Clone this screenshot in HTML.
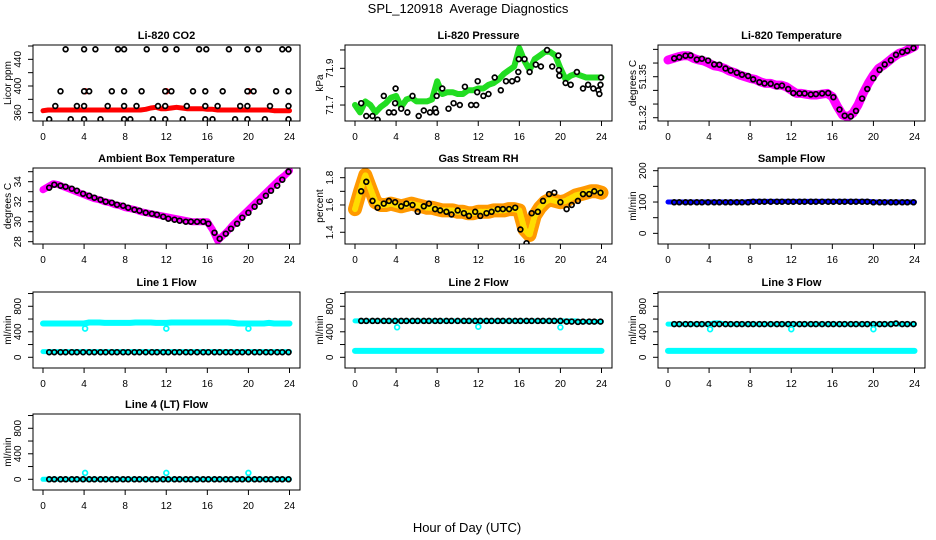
<!DOCTYPE html>
<html><head><meta charset="utf-8"><title>SPL_120918 Average Diagnostics</title>
<style>
html,body{margin:0;padding:0;background:#fff;}
svg{display:block;font-family:"Liberation Sans",Arial,sans-serif;}
</style></head>
<body>
<svg id="chart" width="936" height="540" viewBox="0 0 936 540" xmlns="http://www.w3.org/2000/svg">
<text x="468" y="13" text-anchor="middle" font-size="13">SPL_120918&#160; Average Diagnostics</text>
<text x="467" y="532" text-anchor="middle" font-size="13">Hour of Day (UTC)</text>
</svg>
<script>
// ---- shared x values ----
const halfHours = [0,0.5,1,1.5,2,2.5,3,3.5,4,4.5,5,5.5,6,6.5,7,7.5,8,8.5,9,9.5,10,10.5,11,11.5,12,12.5,13,13.5,14,14.5,15,15.5,16,16.5,17,17.5,18,18.5,19,19.5,20,20.5,21,21.5,22,22.5,23,23.5,24];
const hourlyX = [0.6,1.1,1.7,2.2,2.8,3.3,3.9,4.5,5.0,5.6,6.1,6.7,7.2,7.8,8.3,8.9,9.4,10.0,10.6,11.1,11.7,12.2,12.8,13.3,13.9,14.4,15.0,15.6,16.1,16.7,17.2,17.8,18.3,18.9,19.4,20.0,20.6,21.1,21.7,22.2,22.8,23.3,23.9];
const xTicks = [0,4,8,12,16,20,24];

// ---- CO2 ----
const co2Band = [363,364,364,364,364,364,364,364,364,364,364,364,364,364,364,364,364,364,364,364,365,367,368,366,366,367,368,367,366,366,366,366,365,365,364,364,364,364,364,364,364,364,364,364,364,363,363,363,363];
const co2RedX = [4.1,12.0,20.0];
const co2RedY = [392,392,392];
const co2BlackX = [2.2,4,5.1,7.3,7.9,10.1,11.9,13,15.2,15.9,18.1,19.9,21,23.3,23.9, 1.7,4,4.5,6.7,7.9,9.6,11.9,12.5,14.6,15.8,17.5,19.9,20.5,22.7,23.9, 1.2,3.3,4,6.3,7.9,9.1,11.2,11.9,14,15.8,17,19.2,19.9,22.1,23.9, 0.6,2.7,4,5.6,7.9,8.5,10.7,11.9,13.6,15.8,16.5,18.7,19.9,21.6,23.9];
const co2BlackY = [455,455,455,455,455,455,455,455,455,455,455,455,455,455,455, 392,392,392,392,392,392,392,392,392,392,392,392,392,392,392, 370,370,370,370,370,370,370,370,370,370,370,370,370,370,370, 350,350,350,350,350,350,350,350,350,350,350,350,350,350,350];

// ---- Pressure ----
const presBand = [71.70,71.66,71.72,71.70,71.66,71.69,71.71,71.74,71.75,71.69,71.73,71.74,71.72,71.72,71.72,71.73,71.83,71.76,71.77,71.77,71.76,71.76,71.78,71.78,71.79,71.79,71.81,71.82,71.84,71.87,71.89,71.91,72.01,71.94,71.89,71.95,71.97,71.99,71.99,71.97,71.90,71.84,71.86,71.87,71.86,71.85,71.85,71.85,71.85];
const presBlackX = [0.6,1.1,1.7,2.2,2.8,3.3,3.8,3.9,3.95,4.5,5.1,5.6,6.2,6.7,7.3,7.8,7.9,7.95,8.5,9.1,9.6,10.2,10.7,11.3,11.8,11.9,11.95,12.5,13.0,13.6,14.2,14.7,15.3,15.8,15.9,15.95,16.5,17.0,17.6,18.1,18.7,19.2,19.8,19.85,19.9,20.5,21.0,21.6,22.2,22.7,23.2,23.7,23.8,23.9,23.95];
const presBlackY = [71.71,71.64,71.64,71.62,71.75,71.66,71.66,71.71,71.79,71.68,71.66,71.75,71.64,71.67,71.66,71.68,71.66,71.75,71.79,71.68,71.71,71.70,71.80,71.70,71.70,71.77,71.83,71.75,71.76,71.85,71.78,71.83,71.83,71.84,71.88,71.95,71.95,71.88,71.92,71.91,72.00,71.91,71.97,71.89,71.86,71.82,71.81,71.88,71.79,71.81,71.79,71.78,71.76,71.81,71.85];

// ---- Li-820 temperature ----
const tempBand = [51.3622,51.3634,51.3646,51.3654,51.3654,51.3634,51.3622,51.3615,51.3598,51.3580,51.3573,51.3561,51.3541,51.3529,51.3512,51.3500,51.3488,51.3480,51.3463,51.3451,51.3451,51.3439,51.3439,51.3427,51.3402,51.3378,51.3378,51.3371,51.3366,51.3366,51.3373,51.3378,51.3354,51.3280,51.3220,51.3207,51.3232,51.3293,51.3378,51.3451,51.3512,51.3561,51.3585,51.3615,51.3646,51.3671,51.3683,51.3702,51.3720];
const tempBlack = [51.3634,51.3642,51.3654,51.3656,51.3625,51.3632,51.3618,51.3590,51.3588,51.3560,51.3545,51.3529,51.3515,51.3505,51.3480,51.3460,51.3451,51.3448,51.3430,51.3435,51.3410,51.3380,51.3378,51.3378,51.3370,51.3373,51.3378,51.3380,51.3350,51.3260,51.3215,51.3210,51.3250,51.3340,51.3410,51.3490,51.3550,51.3590,51.3620,51.3660,51.3680,51.3690,51.3710];

// ---- Ambient box temperature ----
const ambBand = [33.2,33.5,33.8,33.7,33.5,33.3,33.1,32.9,32.7,32.5,32.3,32.2,32.0,31.9,31.7,31.6,31.4,31.3,31.2,31.0,30.9,30.8,30.7,30.6,30.5,30.4,30.3,30.2,30.1,30.0,30.0,30.0,30.0,29.2,28.1,28.6,29.1,29.7,30.2,30.7,31.2,31.7,32.2,32.7,33.2,33.7,34.2,34.6,35.1];
const ambBlack = [33.4,33.7,33.6,33.5,33.3,33.1,32.8,32.6,32.4,32.2,32.0,31.9,31.7,31.6,31.4,31.2,31.1,30.9,30.8,30.7,30.5,30.3,30.2,30.1,30.0,30.0,30.0,30.0,29.8,28.9,28.3,28.8,29.3,29.8,30.4,30.9,31.5,32.0,32.6,33.1,33.6,34.2,35.0];

// ---- Gas stream RH ----
const rhBand = [1.57,1.70,1.82,1.72,1.62,1.60,1.60,1.61,1.60,1.59,1.60,1.61,1.60,1.59,1.58,1.58,1.57,1.56,1.56,1.56,1.55,1.55,1.54,1.54,1.55,1.55,1.55,1.56,1.56,1.56,1.57,1.57,1.56,1.42,1.38,1.52,1.58,1.62,1.64,1.63,1.62,1.63,1.65,1.67,1.68,1.69,1.70,1.70,1.69];
const rhBlack = [1.70,1.77,1.63,1.58,1.61,1.63,1.62,1.59,1.61,1.60,1.55,1.59,1.61,1.57,1.56,1.55,1.53,1.56,1.54,1.52,1.55,1.52,1.54,1.55,1.57,1.57,1.57,1.58,1.42,1.32,1.54,1.55,1.63,1.68,1.69,1.62,1.57,1.60,1.63,1.68,1.68,1.70,1.69];

// ---- Sample flow ----
const sampleBand = [100,100,100,100,100,100,100,100,100,100,100,100,100,100,100,100,102,102,102,102,102,102,102,102,102,102,102,102,102,102,102,102,102,102,102,102,102,102,102,102,100,100,100,100,100,100,100,100,100];
const sampleBlack = [99,99,99,99,99,99,99,99,99,99,99,99,99,99,101,101,101,101,101,101,101,101,101,101,101,101,101,101,101,101,101,101,101,101,101,99,99,99,99,99,99,99,99];

// ---- Line flows ----
const line1Upper = [530,530,530,530,530,530,530,530,530,545,545,545,540,540,540,540,540,540,545,545,545,545,540,540,540,545,545,545,545,545,545,545,545,545,545,545,545,540,530,530,530,530,530,530,540,530,530,530,530];
const line1Lower = [90,90,90,90,90,90,90,90,90,90,90,90,90,90,90,90,90,90,90,90,90,90,90,90,90,90,90,90,90,90,90,90,90,90,90,90,90,90,90,90,90,90,90,90,90,90,90,90,90];
const line1Black = [80,80,80,80,80,80,80,80,80,80,80,80,80,80,80,80,80,80,80,80,80,80,80,80,80,80,80,80,80,80,80,80,80,80,80,80,80,80,80,80,80,80,80];
const line2Upper = [570,570,570,570,570,570,570,570,570,570,570,570,570,570,570,570,570,570,570,570,570,570,570,570,570,570,570,570,570,570,570,570,570,570,570,570,570,570,570,570,570,570,570,570,560,560,560,560,560];
const line2Lower = [100,100,100,100,100,100,100,100,100,100,100,100,100,100,100,100,100,100,100,100,100,100,100,100,100,100,100,100,100,100,100,100,100,100,100,100,100,100,100,100,100,100,100,100,100,100,100,100,100];
const line2Black = [570,570,570,570,570,570,570,570,570,570,570,570,570,570,570,570,570,570,570,570,570,570,570,570,570,570,570,570,570,570,570,570,570,570,570,570,560,560,555,560,560,560,560];
const line3Upper = [520,520,520,520,520,520,520,520,520,540,540,520,520,520,520,520,520,520,520,520,520,520,520,520,520,520,520,520,520,520,520,520,520,520,520,520,520,520,520,520,520,520,520,520,530,520,520,520,520];
const line3Lower = [100,100,100,100,100,100,100,100,100,100,100,100,100,100,100,100,100,100,100,100,100,100,100,100,100,100,100,100,100,100,100,100,100,100,100,100,100,100,100,100,100,100,100,100,100,100,100,100,100];
const line3Black = [520,520,520,520,520,520,520,520,520,520,520,520,520,520,520,520,520,520,520,520,520,520,520,520,520,520,520,520,520,520,520,520,520,520,520,520,520,520,520,530,520,520,520];
const line4Band = [0,0,0,0,0,0,0,0,0,0,0,0,0,0,0,0,0,0,0,0,0,0,0,0,0,0,0,0,0,0,0,0,0,0,0,0,0,0,0,0,0,0,0,0,0,0,0,0,0];
const line4Black = [0,0,0,0,0,0,0,0,0,0,0,0,0,0,0,0,0,0,0,0,0,0,0,0,0,0,0,0,0,0,0,0,0,0,0,0,0,0,0,0,0,0,0];
const outlierX = [4.1,12.0,20.0];
const line1Outliers = [450,450,450];
const line2Outliers = [470,480,470];
const line3Outliers = [440,440,440];
const line4Outliers = [100,100,100];

const svg = document.getElementById('chart');
const NS = 'http://www.w3.org/2000/svg';
function mk(tag, attrs, parent){
  const e = document.createElementNS(NS, tag);
  for (const k in attrs) e.setAttribute(k, attrs[k]);
  (parent||svg).appendChild(e);
  return e;
}
const colLeft = [33, 345, 658];
const rowTop = [45, 168, 292, 414];
const W = 267, H = 76;

const panels = [
 {key:'co2',c:0,r:0,title:'Li-820 CO2',ylab:'Licor ppm',ylim:[347.5,461.5],yt:[360,380,400,420,440,460],yl:[360,400,440],
  series:[{t:'band',x:halfHours,y:co2Band,col:'#ff0000',w:5},
          {t:'pts',x:co2RedX,y:co2RedY,col:'#ff0000'},
          {t:'pts',x:co2BlackX,y:co2BlackY,col:'#000',fill:'#fff'}]},
 {key:'pressure',c:1,r:0,title:'Li-820 Pressure',ylab:'kPa',ylim:[71.613,72.027],yt:[71.7,71.8,71.9,72.0],yl:[71.7,71.9],
  series:[{t:'band',x:halfHours,y:presBand,col:'#22dd22',w:6},
          {t:'pts',x:presBlackX,y:presBlackY,col:'#000',fill:'#fff'}]},
 {key:'li820-temp',c:2,r:0,title:'Li-820 Temperature',ylab:'degrees C',ylim:[51.3176,51.3732],yt:[51.32,51.33,51.34,51.35,51.36,51.37],yl:[51.32,51.35],
  series:[{t:'band',x:halfHours,y:tempBand,col:'#ff00ff',w:9},
          {t:'pts',x:hourlyX,y:tempBlack,col:'#000'}]},
 {key:'ambient-temp',c:0,r:1,title:'Ambient Box Temperature',ylab:'degrees C',ylim:[27.77,35.37],yt:[28,29,30,31,32,33,34,35],yl:[28,30,32,34],
  series:[{t:'band',x:halfHours,y:ambBand,col:'#ff00ff',w:7},
          {t:'pts',x:hourlyX,y:ambBlack,col:'#000'}]},
 {key:'gas-rh',c:1,r:1,title:'Gas Stream RH',ylab:'percent',ylim:[1.314,1.871],yt:[1.4,1.5,1.6,1.7,1.8],yl:[1.4,1.6,1.8],
  series:[{t:'band',x:halfHours,y:rhBand,col:'#ff9900',w:14},
          {t:'band',x:halfHours,y:rhBand,col:'#ffdd00',w:6,dash:'2 2'},
          {t:'pts',x:hourlyX,y:rhBlack,col:'#000'}]},
 {key:'sample-flow',c:2,r:1,title:'Sample Flow',ylab:'ml/min',ylim:[-34,208.6],yt:[0,50,100,150,200],yl:[0,100,200],
  series:[{t:'band',x:halfHours,y:sampleBand,col:'#0000ff',w:5},
          {t:'pts',x:hourlyX,y:sampleBlack,col:'#000'}]},
 {key:'line1-flow',c:0,r:2,title:'Line 1 Flow',ylab:'ml/min',ylim:[-168,1024],yt:[0,200,400,600,800,1000],yl:[0,400,800],
  series:[{t:'band',x:halfHours,y:line1Upper,col:'#00ffff',w:6},
          {t:'band',x:halfHours,y:line1Lower,col:'#00ffff',w:5},
          {t:'pts',x:hourlyX,y:line1Black,col:'#000',fill:'#00ffff'},
          {t:'pts',x:outlierX,y:line1Outliers,col:'#00ffff'}]},
 {key:'line2-flow',c:1,r:2,title:'Line 2 Flow',ylab:'ml/min',ylim:[-168,1024],yt:[0,200,400,600,800,1000],yl:[0,400,800],
  series:[{t:'band',x:halfHours,y:line2Upper,col:'#00ffff',w:5},
          {t:'band',x:halfHours,y:line2Lower,col:'#00ffff',w:6},
          {t:'pts',x:hourlyX,y:line2Black,col:'#000',fill:'#00ffff'},
          {t:'pts',x:outlierX,y:line2Outliers,col:'#00ffff'}]},
 {key:'line3-flow',c:2,r:2,title:'Line 3 Flow',ylab:'ml/min',ylim:[-168,1024],yt:[0,200,400,600,800,1000],yl:[0,400,800],
  series:[{t:'band',x:halfHours,y:line3Upper,col:'#00ffff',w:5},
          {t:'band',x:halfHours,y:line3Lower,col:'#00ffff',w:6},
          {t:'pts',x:hourlyX,y:line3Black,col:'#000',fill:'#00ffff'},
          {t:'pts',x:outlierX,y:line3Outliers,col:'#00ffff'}]},
 {key:'line4-flow',c:0,r:3,title:'Line 4 (LT) Flow',ylab:'ml/min',ylim:[-168,1024],yt:[0,200,400,600,800,1000],yl:[0,400,800],
  series:[{t:'band',x:halfHours,y:line4Band,col:'#00ffff',w:5},
          {t:'pts',x:hourlyX,y:line4Black,col:'#000',fill:'#00ffff'},
          {t:'pts',x:outlierX,y:line4Outliers,col:'#00ffff'}]}
];

panels.forEach(p => {
  const L = colLeft[p.c], T = rowTop[p.r], B = T + H, R = L + W;
  const xs = v => L + 10 + v * (246.5 / 24);
  const ys = v => B - (v - p.ylim[0]) / (p.ylim[1] - p.ylim[0]) * H;
  const g = mk('g', {});
  
  
  const clipId = 'clip-' + p.key;
  const cp = mk('clipPath', {id: clipId}, g);
  mk('rect', {x: L, y: T, width: W, height: H}, cp);
  const plot = mk('g', {'clip-path': 'url(#' + clipId + ')'}, g);
  
  
  p.series.forEach((s, si) => {
    if (s.t === 'band') {
      const pts = s.x.map((xv, i) => xs(xv).toFixed(1) + ',' + ys(s.y[i]).toFixed(1)).join(' ');
      const pl = mk('polyline', {points: pts, fill: 'none', stroke: s.col, 'stroke-width': s.w, 'stroke-linejoin': 'round', 'stroke-linecap': 'round'}, plot);
      if (s.dash) pl.setAttribute('stroke-dasharray', s.dash);
      
      
    } else {
      s.x.forEach((xv, i) => {
        const c = mk('circle', {cx: xs(xv).toFixed(1), cy: ys(s.y[i]).toFixed(1), r: 2.4, fill: s.fill || 'none', stroke: s.col, 'stroke-width': 1.7}, plot);
        
        
      });
    }
  });
  const box = mk('rect', {x: L, y: T, width: W, height: H, fill: 'none', stroke: '#000', 'stroke-width': 1}, g);
  
  
  const title = mk('text', {x: L + W / 2, y: T - 6, 'text-anchor': 'middle', 'font-size': 11, 'font-weight': 'bold'}, g);
  title.textContent = p.title;
  
  
  const xa = mk('g', {}, g);
  
  
  xTicks.forEach(t => {
    mk('line', {x1: xs(t), x2: xs(t), y1: B, y2: B + 5, stroke: '#000'}, xa);
    const tx = mk('text', {x: xs(t), y: B + 19, 'text-anchor': 'middle', 'font-size': 10}, xa);
    tx.textContent = t;
    
    
  });
  const ya = mk('g', {}, g);
  
  
  p.yt.forEach(t => {
    mk('line', {x1: L - 5, x2: L, y1: ys(t), y2: ys(t), stroke: '#000'}, ya);
  });
  p.yl.forEach(t => {
    const yy = ys(t);
    const tx = mk('text', {x: L - 12, y: yy, 'text-anchor': 'middle', 'font-size': 10, transform: 'rotate(-90 ' + (L - 12) + ' ' + yy + ')'}, ya);
    tx.textContent = t;
    
    
  });
  const yt = mk('text', {x: L - 22, y: T + H / 2, 'text-anchor': 'middle', 'font-size': 10, transform: 'rotate(-90 ' + (L - 22) + ' ' + (T + H / 2) + ')'}, g);
  yt.textContent = p.ylab;
  
  
});
</script>
</body></html>
